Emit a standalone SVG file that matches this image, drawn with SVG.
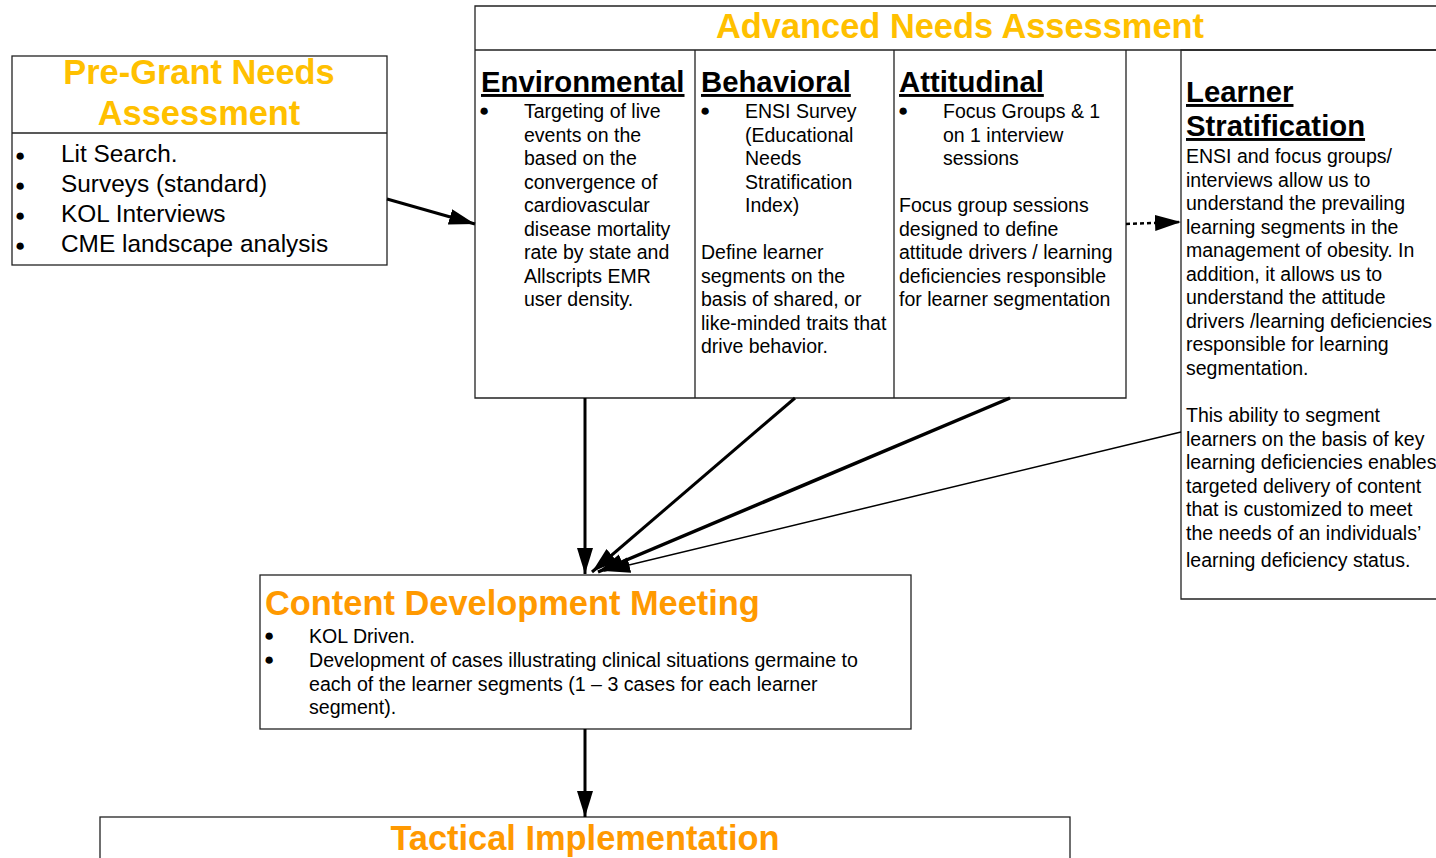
<svg xmlns="http://www.w3.org/2000/svg" width="1436" height="858" viewBox="0 0 1436 858">
<style>
.box{fill:#fff;stroke:#222;stroke-width:1.3}
.div{stroke:#222;stroke-width:1.3;fill:none}
.t1{font-family:"Liberation Sans",Arial,sans-serif;font-weight:bold;font-size:34.4px;fill:#FFC000}
.t2{font-family:"Liberation Sans",Arial,sans-serif;font-weight:bold;font-size:34.4px;fill:#FF9900}
.h{font-family:"Liberation Sans",Arial,sans-serif;font-weight:bold;font-size:29.3px;fill:#000;text-decoration:underline}
.b24{font-family:"Liberation Sans",Arial,sans-serif;font-size:24.4px;fill:#000}
.b{font-family:"Liberation Sans",Arial,sans-serif;font-size:19.5px;fill:#000}
.bc{font-family:"Liberation Sans",Arial,sans-serif;font-size:19.6px;fill:#000}
.bul{font-family:"Liberation Sans",Arial,sans-serif;font-size:17px;fill:#000}
.c{stroke:#000;fill:none}
</style>
<defs>
<marker id="ah" markerUnits="userSpaceOnUse" markerWidth="28" markerHeight="18" refX="26" refY="8" orient="auto">
<path d="M0,0 L26,8 L0,16 z" fill="#000"/>
</marker>
</defs>

<g id="pre-grant">
<rect class="box" x="12" y="56" width="375" height="209"/>
<line class="div" x1="12" y1="133" x2="387" y2="133"/>
<text class="t1" x="199" y="84" text-anchor="middle">Pre-Grant Needs</text>
<text class="t1" x="199" y="125" text-anchor="middle">Assessment</text>
<text class="bul" x="15" y="161">●</text><text class="b24" x="61" y="162">Lit Search.</text>
<text class="bul" x="15" y="191">●</text><text class="b24" x="61" y="192">Surveys (standard)</text>
<text class="bul" x="15" y="221">●</text><text class="b24" x="61" y="222">KOL Interviews</text>
<text class="bul" x="15" y="251">●</text><text class="b24" x="61" y="252">CME landscape analysis</text>
</g>

<g id="advanced">
<path class="div" d="M1436,6 H475 V398 H1126 V50 M475,50 H1436 M695,50 V398 M894,50 V398"/>
<text class="t1" x="960" y="38" text-anchor="middle">Advanced Needs Assessment</text>
</g>

<g id="environmental">
<text class="h" x="481" y="92">Environmental</text>
<text class="bul" x="479" y="116" font-size="13">●</text>
<text class="b">
<tspan x="524" y="118">Targeting of live</tspan>
<tspan x="524" y="141.5">events on the</tspan>
<tspan x="524" y="165">based on the</tspan>
<tspan x="524" y="188.5">convergence of</tspan>
<tspan x="524" y="212">cardiovascular</tspan>
<tspan x="524" y="235.5">disease mortality</tspan>
<tspan x="524" y="259">rate by state and</tspan>
<tspan x="524" y="282.5">Allscripts EMR</tspan>
<tspan x="524" y="306">user density.</tspan>
</text>
</g>

<g id="behavioral">
<text class="h" x="701" y="92">Behavioral</text>
<text class="bul" x="700" y="116" font-size="13">●</text>
<text class="b">
<tspan x="745" y="118">ENSI Survey</tspan>
<tspan x="745" y="141.5">(Educational</tspan>
<tspan x="745" y="165">Needs</tspan>
<tspan x="745" y="188.5">Stratification</tspan>
<tspan x="745" y="212">Index)</tspan>
<tspan x="701" y="259">Define learner</tspan>
<tspan x="701" y="282.5">segments on the</tspan>
<tspan x="701" y="306">basis of shared, or</tspan>
<tspan x="701" y="329.5">like-minded traits that</tspan>
<tspan x="701" y="353">drive behavior.</tspan>
</text>
</g>

<g id="attitudinal">
<text class="h" x="899" y="92">Attitudinal</text>
<text class="bul" x="898" y="116" font-size="13">●</text>
<text class="b">
<tspan x="943" y="118">Focus Groups &amp; 1</tspan>
<tspan x="943" y="141.5">on 1 interview</tspan>
<tspan x="943" y="165">sessions</tspan>
<tspan x="899" y="212">Focus group sessions</tspan>
<tspan x="899" y="235.5">designed to define</tspan>
<tspan x="899" y="259">attitude drivers / learning</tspan>
<tspan x="899" y="282.5">deficiencies responsible</tspan>
<tspan x="899" y="306">for learner segmentation</tspan>
</text>
</g>

<g id="learner-stratification">
<path class="div" d="M1436,50 H1181 V599 H1436"/>
<text class="h" x="1186" y="102">Learner</text>
<text class="h" x="1186" y="136">Stratification</text>
<text class="b">
<tspan x="1186" y="163">ENSI and focus groups/</tspan>
<tspan x="1186" y="186.5">interviews allow us to</tspan>
<tspan x="1186" y="210">understand the prevailing</tspan>
<tspan x="1186" y="233.5">learning segments in the</tspan>
<tspan x="1186" y="257">management of obesity.  In</tspan>
<tspan x="1186" y="280.5">addition, it allows us to</tspan>
<tspan x="1186" y="304">understand the attitude</tspan>
<tspan x="1186" y="327.5">drivers /learning deficiencies</tspan>
<tspan x="1186" y="351">responsible for learning</tspan>
<tspan x="1186" y="374.5">segmentation.</tspan>
<tspan x="1186" y="422">This ability to segment</tspan>
<tspan x="1186" y="445.5">learners on the basis of key</tspan>
<tspan x="1186" y="469">learning deficiencies enables</tspan>
<tspan x="1186" y="492.5">targeted delivery of content</tspan>
<tspan x="1186" y="516">that is customized to meet</tspan>
<tspan x="1186" y="539.5">the needs of an individuals’</tspan>
<tspan x="1186" y="567">learning deficiency status.</tspan>
</text>
</g>

<g id="content-development">
<rect class="box" x="260" y="575" width="651" height="154"/>
<text class="t2" x="265" y="615">Content Development Meeting</text>
<text class="bul" x="264" y="641" font-size="13">●</text>
<text class="bul" x="264" y="665" font-size="13">●</text>
<text class="bc">
<tspan x="309" y="643">KOL Driven.</tspan>
<tspan x="309" y="667">Development of cases illustrating clinical situations germaine to</tspan>
<tspan x="309" y="691">each of the learner segments (1 – 3 cases for each learner</tspan>
<tspan x="309" y="714">segment).</tspan>
</text>
</g>

<g id="tactical">
<rect class="box" x="100" y="817" width="970" height="60"/>
<text class="t2" x="585" y="850" text-anchor="middle">Tactical Implementation</text>
</g>

<g id="connectors">
<line class="c" stroke-width="3" x1="387" y1="199" x2="475" y2="224" marker-end="url(#ah)"/>
<line class="c" stroke-width="2.5" stroke-dasharray="4,3" x1="1126" y1="224" x2="1181" y2="222" marker-end="url(#ah)"/>
<line class="c" stroke-width="3" x1="585" y1="398" x2="585" y2="574" marker-end="url(#ah)"/>
<line class="c" stroke-width="3" x1="795" y1="398" x2="592" y2="572" marker-end="url(#ah)"/>
<line class="c" stroke-width="3.5" x1="1010" y1="398" x2="598" y2="572" marker-end="url(#ah)"/>
<line class="c" stroke-width="1.5" x1="1181" y1="432" x2="604" y2="571" marker-end="url(#ah)"/>
<line class="c" stroke-width="3" x1="585" y1="729" x2="585" y2="817" marker-end="url(#ah)"/>
</g>
</svg>
